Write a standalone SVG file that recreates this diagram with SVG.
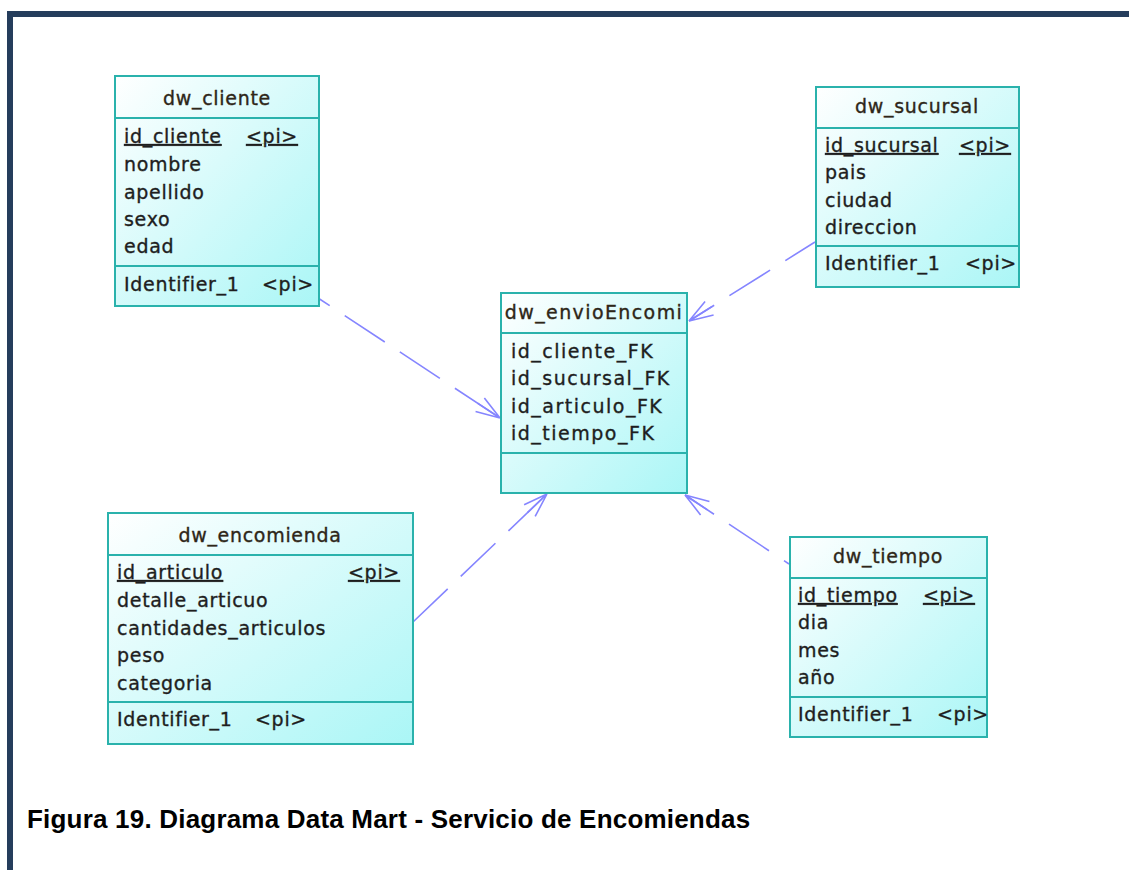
<svg xmlns="http://www.w3.org/2000/svg" width="1129" height="870" viewBox="0 0 1129 870">
  <style>
    .box { fill: url(#tblFill); stroke: #2ab2ac; stroke-width: 2; }
    .div { stroke: #2ab2ac; stroke-width: 2; }
    .t { font-family: "DejaVu Sans", "Liberation Sans", sans-serif; font-size: 19px; fill: #1e1e1e; stroke: #1e1e1e; stroke-width: 0.35px; letter-spacing: 0.7px; }
    .wide { letter-spacing: 1.5px; }
    .ttl { text-anchor: middle; fill: #2e2618; stroke: #2e2618; }
    .pk { text-decoration: underline; }
    .rel { fill: none; stroke: #8585ff; stroke-width: 1.6; stroke-dasharray: 48 18; marker-end: url(#many); }
    .caption { font-family: "Liberation Sans", Arial, sans-serif; font-weight: bold; font-size: 26px; fill: #000; letter-spacing: 0.2px; }
  </style>
  <defs>
    <linearGradient id="tblFill" x1="0" y1="0" x2="1" y2="1">
      <stop offset="0" stop-color="#ffffff"/>
      <stop offset="1" stop-color="#aaf6f6"/>
    </linearGradient>
    <!-- crow's foot (many) end -->
    <marker id="many" markerUnits="userSpaceOnUse" markerWidth="60" markerHeight="60" refX="0" refY="0" orient="auto" overflow="visible">
      <path d="M0,0 L-24,-8 M0,0 L-27,0 M0,0 L-24,8" fill="none" stroke="#8585ff" stroke-width="1.6"/>
    </marker>
  </defs>

  <rect width="1129" height="870" fill="#ffffff"/>

  <!-- page frame -->
  <g id="frame" fill="#253d5c">
    <rect x="7" y="11" width="1122" height="6"/>
    <rect x="7" y="11" width="6" height="859"/>
  </g>

  <!-- relationships -->
  <g id="connectors">
    <path class="rel" d="M318,298 L500,418" stroke-dashoffset="34"/>
    <path class="rel" d="M815,242 L689,321" stroke-dashoffset="13"/>
    <path class="rel" d="M413,622 L547,494" stroke-dashoffset="0"/>
    <path class="rel" d="M789,564 L685,495" stroke-dashoffset="42"/>
  </g>

  <g id="dw_cliente">
    <rect class="box" x="115" y="76" width="204" height="230"/>
    <line class="div" x1="115" y1="118" x2="319" y2="118"/>
    <line class="div" x1="115" y1="266" x2="319" y2="266"/>
    <text class="t ttl" x="217" y="105">dw_cliente</text>
    <text class="t pk" x="124" y="143">id_cliente</text>
    <text class="t pk" x="246" y="143">&lt;pi&gt;</text>
    <text class="t" x="124" y="171">nombre</text>
    <text class="t" x="124" y="199">apellido</text>
    <text class="t" x="124" y="226">sexo</text>
    <text class="t" x="124" y="253">edad</text>
    <text class="t" x="124" y="291">Identifier_1</text>
    <text class="t" x="262" y="291">&lt;pi&gt;</text>
  </g>

  <g id="dw_sucursal">
    <rect class="box" x="816" y="87" width="203" height="200"/>
    <line class="div" x1="816" y1="128" x2="1019" y2="128"/>
    <line class="div" x1="816" y1="246" x2="1019" y2="246"/>
    <text class="t ttl" x="917" y="113">dw_sucursal</text>
    <text class="t pk" x="825" y="152">id_sucursal</text>
    <text class="t pk" x="959" y="152">&lt;pi&gt;</text>
    <text class="t" x="825" y="179">pais</text>
    <text class="t" x="825" y="207">ciudad</text>
    <text class="t" x="825" y="234">direccion</text>
    <text class="t" x="825" y="270">Identifier_1</text>
    <text class="t" x="965" y="270">&lt;pi&gt;</text>
  </g>

  <g id="dw_envioEncomi">
    <rect class="box" x="501" y="293" width="186" height="200"/>
    <line class="div" x1="501" y1="333" x2="687" y2="333"/>
    <line class="div" x1="501" y1="453" x2="687" y2="453"/>
    <text class="t ttl" x="594" y="319" style="letter-spacing:1.4px">dw_envioEncomi</text>
    <text class="t wide" x="511" y="358">id_cliente_FK</text>
    <text class="t wide" x="511" y="385">id_sucursal_FK</text>
    <text class="t wide" x="511" y="413">id_articulo_FK</text>
    <text class="t wide" x="511" y="440">id_tiempo_FK</text>
  </g>

  <g id="dw_encomienda">
    <rect class="box" x="108" y="513" width="305" height="231"/>
    <line class="div" x1="108" y1="555" x2="413" y2="555"/>
    <line class="div" x1="108" y1="702" x2="413" y2="702"/>
    <text class="t ttl" x="260" y="542">dw_encomienda</text>
    <text class="t pk" x="117" y="579">id_articulo</text>
    <text class="t pk" x="348" y="579">&lt;pi&gt;</text>
    <text class="t" x="117" y="607">detalle_articuo</text>
    <text class="t" x="117" y="635">cantidades_articulos</text>
    <text class="t" x="117" y="662">peso</text>
    <text class="t" x="117" y="690">categoria</text>
    <text class="t" x="117" y="726">Identifier_1</text>
    <text class="t" x="255" y="726">&lt;pi&gt;</text>
  </g>

  <g id="dw_tiempo">
    <rect class="box" x="790" y="537" width="197" height="200"/>
    <line class="div" x1="790" y1="578" x2="987" y2="578"/>
    <line class="div" x1="790" y1="697" x2="987" y2="697"/>
    <text class="t ttl" x="888" y="563">dw_tiempo</text>
    <text class="t pk" x="798" y="602">id_tiempo</text>
    <text class="t pk" x="923" y="602">&lt;pi&gt;</text>
    <text class="t" x="798" y="629">dia</text>
    <text class="t" x="798" y="657">mes</text>
    <text class="t" x="798" y="684">año</text>
    <text class="t" x="798" y="721">Identifier_1</text>
    <text class="t" x="937" y="721">&lt;pi&gt;</text>
  </g>

  <text class="caption" x="27" y="828">Figura 19. Diagrama Data Mart - Servicio de Encomiendas</text>
</svg>
